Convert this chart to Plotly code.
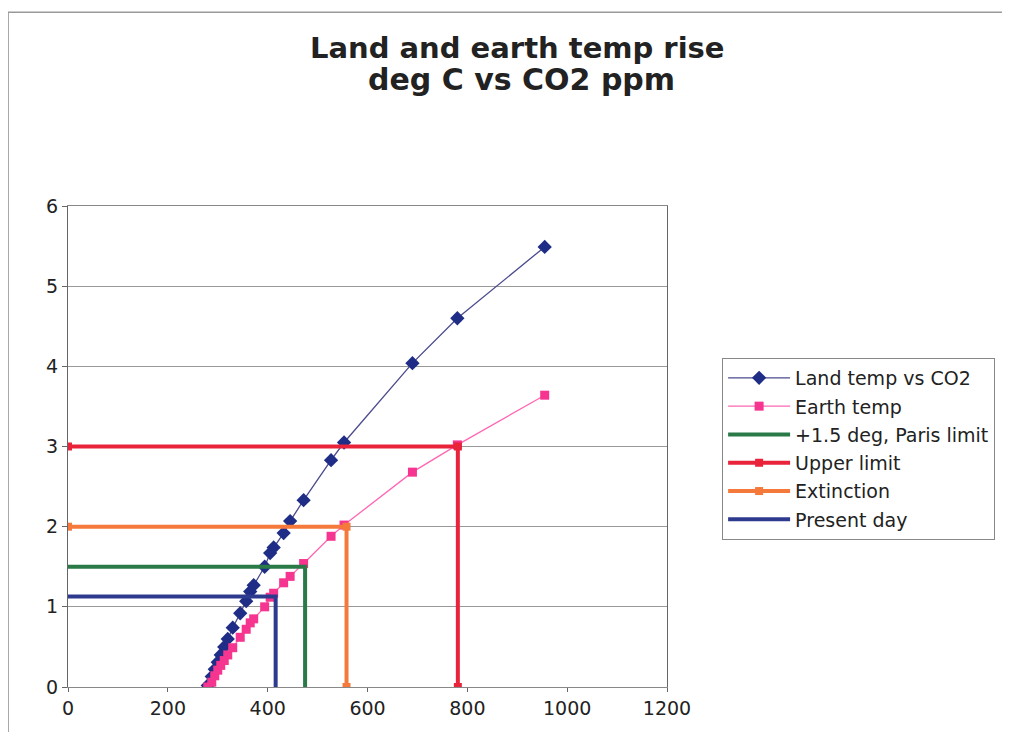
import plotly.graph_objects as go

# CO2 ppm (shared x values for both temperature series)
co2_ppm = [280, 288, 294, 300, 306, 313, 320, 330, 345, 357, 365, 372, 394,
           405, 412, 432, 445, 472, 527, 553, 690, 780, 955]
land_temp = [0.02, 0.13, 0.22, 0.31, 0.40, 0.50, 0.60, 0.74, 0.92, 1.07, 1.19,
             1.27, 1.50, 1.67, 1.74, 1.92, 2.07, 2.33, 2.83, 3.05, 4.04, 4.60, 5.49]
earth_temp = [0.0, 0.06, 0.14, 0.21, 0.27, 0.33, 0.40, 0.49, 0.62, 0.72, 0.80,
              0.85, 1.00, 1.12, 1.17, 1.30, 1.38, 1.54, 1.88, 2.02, 2.68, 3.02, 3.64]

# Reference guide series: (0, y) -> (x, y) -> (x, 0)
paris_x = [0, 475, 475]
paris_y = [1.5, 1.5, 0]
upper_x = [0, 558, 558]
upper_y = [2, 2, 0]
extinction_x = [0, 781, 781]
extinction_y = [3, 3, 0]
present_x = [0, 416, 416]
present_y = [1.13, 1.13, 0]

x_ticks = [0, 200, 400, 600, 800, 1000, 1200]
y_ticks = [0, 1, 2, 3, 4, 5, 6]

title_lines = ["Land and earth temp rise", "deg C vs CO2 ppm"]

FONT = "DejaVu Sans, Verdana, sans-serif"

fig = go.Figure()

fig.add_trace(go.Scatter(
    x=co2_ppm, y=land_temp, mode="lines+markers", name="Land temp vs CO2",
    line=dict(color="#4a4a8c", width=1.3),
    marker=dict(symbol="diamond", size=11, color="#1f2d86"),
    legendgroup="a",
))
fig.add_trace(go.Scatter(
    x=co2_ppm, y=earth_temp, mode="lines+markers", name="Earth temp",
    line=dict(color="#ff66b3", width=1.3),
    marker=dict(symbol="square", size=9, color="#f5358f"),
    legendgroup="b",
))
fig.add_trace(go.Scatter(
    x=paris_x, y=paris_y, mode="lines", name="+1.5 deg, Paris limit",
    line=dict(color="#2a7a48", width=4),
    legendgroup="c",
))
fig.add_trace(go.Scatter(
    x=extinction_x, y=extinction_y, mode="lines+markers", name="Upper limit",
    line=dict(color="#e8233a", width=4),
    marker=dict(symbol="square", size=8, color="#e8233a"),
    legendgroup="d",
))
fig.add_trace(go.Scatter(
    x=upper_x, y=upper_y, mode="lines+markers", name="Extinction",
    line=dict(color="#f4793b", width=4),
    marker=dict(symbol="square", size=8, color="#f4793b"),
    legendgroup="e",
))
fig.add_trace(go.Scatter(
    x=present_x, y=present_y, mode="lines", name="Present day",
    line=dict(color="#2e3a8e", width=4),
    legendgroup="f",
))

fig.update_layout(
    width=1010, height=732,
    margin=dict(l=60, r=351, t=198, b=53),
    paper_bgcolor="white", plot_bgcolor="white",
    font=dict(family=FONT, size=18, color="#222222"),
    showlegend=True,
    legend=dict(
        x=1.092, xanchor="left", y=0.684, yanchor="top",
        bgcolor="white", bordercolor="#888888", borderwidth=1,
        font=dict(family=FONT, size=19, color="#222222"),
        traceorder="grouped", tracegroupgap=0.6,
        itemwidth=62,
    ),
    xaxis=dict(
        range=[0, 1200], tickvals=x_ticks, ticktext=[str(v) for v in x_ticks],
        showgrid=False, zeroline=False,
        showline=True, linecolor="#888888", linewidth=1, mirror=True,
        ticks="outside", ticklen=4, tickcolor="#666666",
        tickfont=dict(family=FONT, size=19, color="#222222"),
    ),
    yaxis=dict(
        range=[0, 6], tickvals=y_ticks, ticktext=[str(v) for v in y_ticks],
        showgrid=True, gridcolor="#999999", gridwidth=1, zeroline=False,
        showline=True, linecolor="#666666", linewidth=1, mirror=True,
        ticks="outside", ticklen=5, tickcolor="#666666",
        tickfont=dict(family=FONT, size=19, color="#222222"),
    ),
)

# Two-line bold title
fig.add_annotation(text="<b>%s</b>" % title_lines[0], xref="paper", yref="paper",
                   x=0.751, y=1.3285, xanchor="center", yanchor="middle",
                   showarrow=False, font=dict(family=FONT, size=29, color="#222222"))
fig.add_annotation(text="<b>%s</b>" % title_lines[1], xref="paper", yref="paper",
                   x=0.757, y=1.262, xanchor="center", yanchor="middle",
                   showarrow=False, font=dict(family=FONT, size=30, color="#222222"))

# Chart-area frame (top and left edges visible in the reference)
fig.add_shape(type="line", xref="paper", yref="paper",
              x0=-0.105, x1=1.6, y0=1.403, y1=1.403,
              line=dict(color="#999999", width=1.5))
fig.add_shape(type="line", xref="paper", yref="paper",
              x0=-0.1, x1=-0.1, y0=1.403, y1=-0.2,
              line=dict(color="#999999", width=1.5))

fig.write_html("out.html")
